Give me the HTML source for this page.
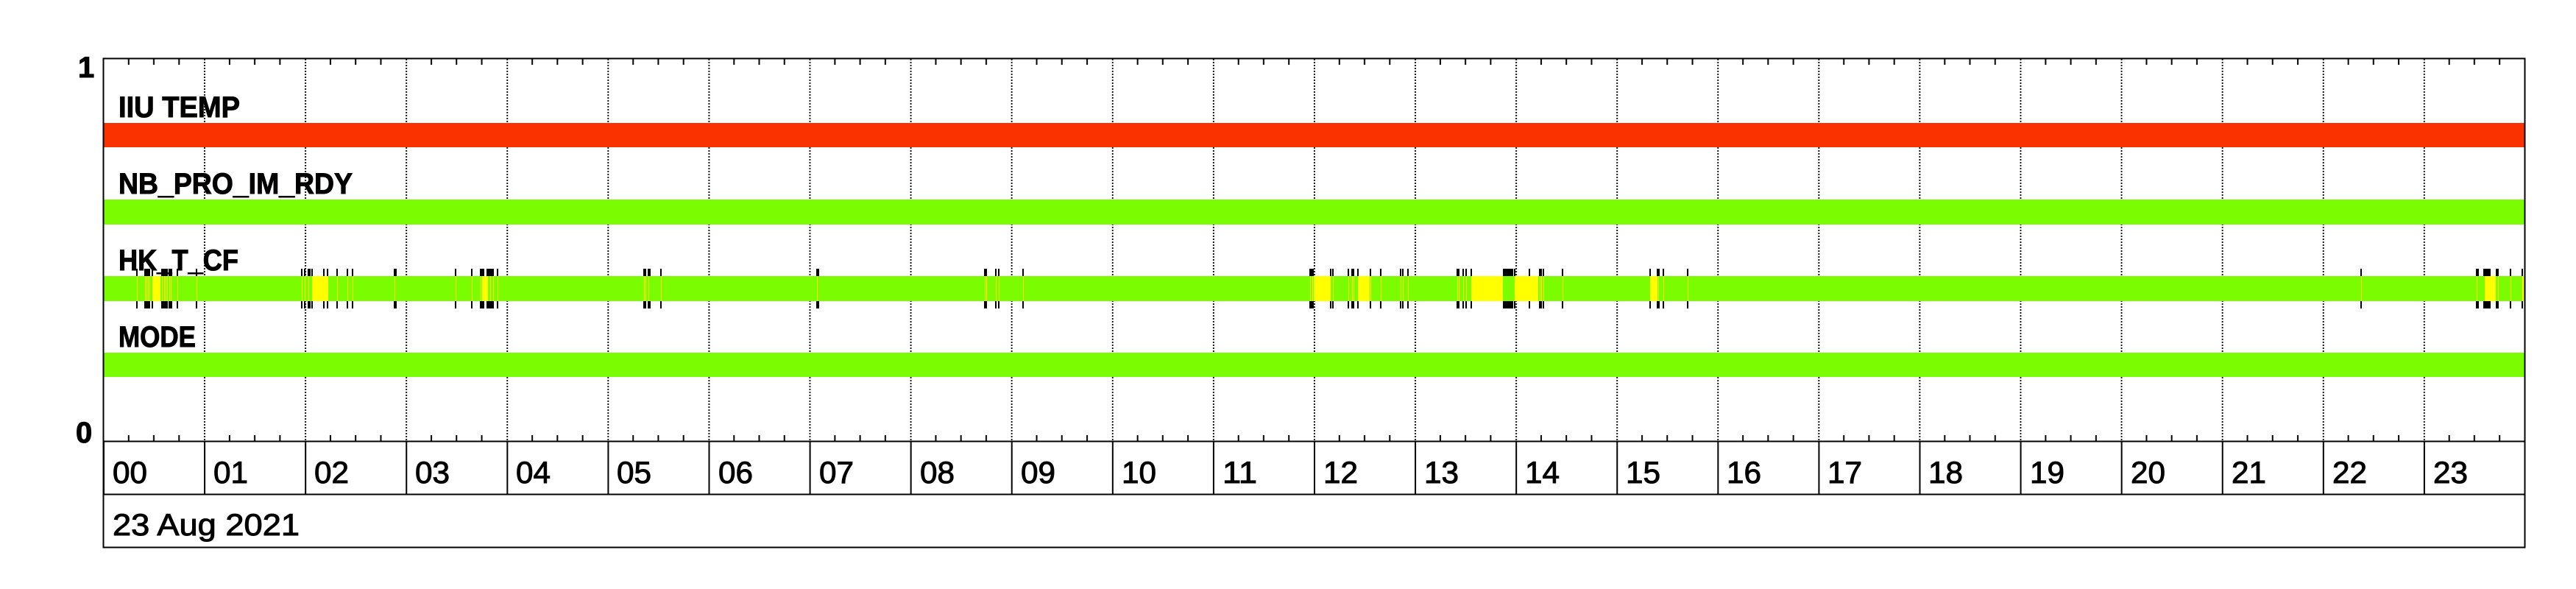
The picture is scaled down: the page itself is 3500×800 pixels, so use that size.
<!DOCTYPE html>
<html><head><meta charset="utf-8"><style>
html,body{margin:0;padding:0;background:#fff;}
svg{display:block;}
text{font-family:"Liberation Sans",sans-serif;fill:#000;stroke:#000;stroke-width:1;}
</style></head><body>
<svg width="3500" height="800" viewBox="0 0 3500 800" xmlns="http://www.w3.org/2000/svg">
<defs>
<pattern id="grid" patternUnits="userSpaceOnUse" x="140" y="0" width="137.083" height="4">
<rect x="0" y="0" width="1.8" height="2" fill="#000"/>
</pattern>
<pattern id="tickT" patternUnits="userSpaceOnUse" x="140" y="79" width="137.083" height="9">
<rect x="33.8" y="0" width="2" height="9" fill="#000"/>
<rect x="68" y="0" width="2" height="9" fill="#000"/>
<rect x="102.3" y="0" width="2" height="9" fill="#000"/>
</pattern>
<pattern id="tickB" patternUnits="userSpaceOnUse" x="140" y="591" width="137.083" height="9">
<rect x="33.8" y="0" width="2" height="9" fill="#000"/>
<rect x="68" y="0" width="2" height="9" fill="#000"/>
<rect x="102.3" y="0" width="2" height="9" fill="#000"/>
</pattern>
<pattern id="sep" patternUnits="userSpaceOnUse" x="140" y="0" width="137.083" height="10">
<rect x="0" y="0" width="2" height="10" fill="#000"/>
</pattern>
</defs>
<rect x="0" y="0" width="3500" height="800" fill="#fff"/>
<rect x="142" y="80" width="3287" height="519" fill="url(#grid)"/>
<rect x="141" y="79" width="3288" height="9" fill="url(#tickT)"/>
<rect x="141" y="591" width="3288" height="9" fill="url(#tickB)"/>
<rect x="140" y="167" width="3291" height="33" fill="#fa3200"/>
<rect x="140" y="271" width="3291" height="34" fill="#7cfc00"/>
<rect x="140" y="375" width="3291" height="34" fill="#7cfc00"/>
<rect x="140" y="479" width="3291" height="33" fill="#7cfc00"/>
<g fill="#ffff00">
<rect x="207" y="375" width="11" height="34"/>
<rect x="424" y="375" width="22" height="34"/>
<rect x="655" y="375" width="8" height="34"/>
<rect x="1785" y="375" width="23" height="34"/>
<rect x="1845" y="375" width="16" height="34"/>
<rect x="1999" y="375" width="43" height="34"/>
<rect x="2058" y="375" width="32" height="34"/>
<rect x="2242" y="375" width="10" height="34"/>
<rect x="3376" y="375" width="15" height="34"/>
<rect x="3427" y="375" width="3" height="34"/>
</g>
<path stroke="#ffff00" stroke-width="1" fill="none" d="M186.5 375v34M197.5 375v34M199.5 375v34M201.5 375v34M203.5 375v34M220.5 375v34M223.5 375v34M225.5 375v34M227.5 375v34M230.5 375v34M232.5 375v34M241.5 375v34M267.5 375v34M410.5 375v34M414.5 375v34M419.5 375v34M458.5 375v34M472.5 375v34M479.5 375v34M536.5 375v34M619.5 375v34M641.5 375v34M653.5 375v34M666.5 375v34M670.5 375v34M676.5 375v34M875.5 375v34M877.5 375v34M881.5 375v34M898.5 375v34M1110.5 375v34M1338.5 375v34M1340.5 375v34M1353.5 375v34M1357.5 375v34M1390.5 375v34M1780.5 375v34M1783.5 375v34M1811.5 375v34M1832.5 375v34M1837.5 375v34M1839.5 375v34M1862.5 375v34M1876.5 375v34M1903.5 375v34M1906.5 375v34M1913.5 375v34M1980.5 375v34M1982.5 375v34M1988.5 375v34M1992.5 375v34M2078.5 375v34M2092.5 375v34M2094.5 375v34M2097.5 375v34M2123.5 375v34M2253.5 375v34M2260.5 375v34M2293.5 375v34M3208.5 375v34M3365.5 375v34M3394.5 375v34M3411.5 375v34"/>
<path stroke="#000" stroke-width="2" fill="none" d="M186 365v10M186 409v10M197 365v10M197 409v10M199 365v10M199 409v10M201 365v10M201 409v10M203 365v10M203 409v10M207 365v10M207 409v10M220 365v10M220 409v10M221 365v10M221 409v10M223 365v10M223 409v10M225 365v10M225 409v10M227 365v10M227 409v10M230 365v10M230 409v10M232 365v10M232 409v10M233 365v10M233 409v10M241 365v10M241 409v10M267 365v10M267 409v10M410 365v10M410 409v10M414 365v10M414 409v10M419 365v10M419 409v10M421 365v10M421 409v10M424 365v10M424 409v10M440 365v10M440 409v10M445 365v10M445 409v10M458 365v10M458 409v10M472 365v10M472 409v10M479 365v10M479 409v10M536 365v10M536 409v10M538 365v10M538 409v10M619 365v10M619 409v10M641 365v10M641 409v10M653 365v10M653 409v10M655 365v10M655 409v10M657 365v10M657 409v10M662 365v10M662 409v10M664 365v10M664 409v10M666 365v10M666 409v10M668 365v10M668 409v10M670 365v10M670 409v10M676 365v10M676 409v10M875 365v10M875 409v10M877 365v10M877 409v10M881 365v10M881 409v10M883 365v10M883 409v10M898 365v10M898 409v10M1110 365v10M1110 409v10M1112 365v10M1112 409v10M1338 365v10M1338 409v10M1340 365v10M1340 409v10M1353 365v10M1353 409v10M1357 365v10M1357 409v10M1390 365v10M1390 409v10M1780 365v10M1780 409v10M1782 365v10M1782 409v10M1784 365v10M1784 409v10M1808 365v10M1808 409v10M1811 365v10M1811 409v10M1832 365v10M1832 409v10M1837 365v10M1837 409v10M1839 365v10M1839 409v10M1845 365v10M1845 409v10M1862 365v10M1862 409v10M1876 365v10M1876 409v10M1903 365v10M1903 409v10M1906 365v10M1906 409v10M1913 365v10M1913 409v10M1980 365v10M1980 409v10M1982 365v10M1982 409v10M1988 365v10M1988 409v10M1992 365v10M1992 409v10M1999 365v10M1999 409v10M2043 365v10M2043 409v10M2045 365v10M2045 409v10M2047 365v10M2047 409v10M2049 365v10M2049 409v10M2051 365v10M2051 409v10M2053 365v10M2053 409v10M2055 365v10M2055 409v10M2058 365v10M2058 409v10M2078 365v10M2078 409v10M2092 365v10M2092 409v10M2094 365v10M2094 409v10M2097 365v10M2097 409v10M2123 365v10M2123 409v10M2242 365v10M2242 409v10M2252 365v10M2252 409v10M2254 365v10M2254 409v10M2260 365v10M2260 409v10M2293 365v10M2293 409v10M3208 365v10M3208 409v10M3365 365v10M3365 409v10M3367 365v10M3367 409v10M3375 365v10M3375 409v10M3377 365v10M3377 409v10M3379 365v10M3379 409v10M3381 365v10M3381 409v10M3383 365v10M3383 409v10M3392 365v10M3392 409v10M3394 365v10M3394 409v10M3411 365v10M3411 409v10M3427 365v10M3427 409v10"/>
<rect x="140.5" y="79.5" width="3290" height="520" fill="none" stroke="#000" stroke-width="2"/>
<rect x="140.5" y="599.5" width="3290" height="72" fill="none" stroke="#000" stroke-width="2"/>
<rect x="140.5" y="671.5" width="3290" height="72" fill="none" stroke="#000" stroke-width="2"/>
<rect x="140" y="600" width="3291" height="71" fill="url(#sep)"/>
<g font-weight="bold">
<text x="161" y="159" font-size="40" textLength="165" lengthAdjust="spacingAndGlyphs">IIU TEMP</text>
<text x="161" y="263" font-size="40" textLength="318" lengthAdjust="spacingAndGlyphs">NB_PRO_IM_RDY</text>
<text x="161" y="367" font-size="40" textLength="163" lengthAdjust="spacingAndGlyphs">HK_T_CF</text>
<text x="161" y="471" font-size="40" textLength="105" lengthAdjust="spacingAndGlyphs">MODE</text>
<text x="106" y="105" font-size="40">1</text>
<text x="103" y="601" font-size="40">0</text>
</g>
<g font-size="42">
<text x="153" y="656" textLength="47" lengthAdjust="spacingAndGlyphs">00</text>
<text x="290" y="656" textLength="47" lengthAdjust="spacingAndGlyphs">01</text>
<text x="427" y="656" textLength="47" lengthAdjust="spacingAndGlyphs">02</text>
<text x="564" y="656" textLength="47" lengthAdjust="spacingAndGlyphs">03</text>
<text x="701" y="656" textLength="47" lengthAdjust="spacingAndGlyphs">04</text>
<text x="838" y="656" textLength="47" lengthAdjust="spacingAndGlyphs">05</text>
<text x="976" y="656" textLength="47" lengthAdjust="spacingAndGlyphs">06</text>
<text x="1113" y="656" textLength="47" lengthAdjust="spacingAndGlyphs">07</text>
<text x="1250" y="656" textLength="47" lengthAdjust="spacingAndGlyphs">08</text>
<text x="1387" y="656" textLength="47" lengthAdjust="spacingAndGlyphs">09</text>
<text x="1524" y="656" textLength="47" lengthAdjust="spacingAndGlyphs">10</text>
<text x="1661" y="656" textLength="47" lengthAdjust="spacingAndGlyphs">11</text>
<text x="1798" y="656" textLength="47" lengthAdjust="spacingAndGlyphs">12</text>
<text x="1935" y="656" textLength="47" lengthAdjust="spacingAndGlyphs">13</text>
<text x="2072" y="656" textLength="47" lengthAdjust="spacingAndGlyphs">14</text>
<text x="2209" y="656" textLength="47" lengthAdjust="spacingAndGlyphs">15</text>
<text x="2346" y="656" textLength="47" lengthAdjust="spacingAndGlyphs">16</text>
<text x="2483" y="656" textLength="47" lengthAdjust="spacingAndGlyphs">17</text>
<text x="2620" y="656" textLength="47" lengthAdjust="spacingAndGlyphs">18</text>
<text x="2758" y="656" textLength="47" lengthAdjust="spacingAndGlyphs">19</text>
<text x="2895" y="656" textLength="47" lengthAdjust="spacingAndGlyphs">20</text>
<text x="3032" y="656" textLength="47" lengthAdjust="spacingAndGlyphs">21</text>
<text x="3169" y="656" textLength="47" lengthAdjust="spacingAndGlyphs">22</text>
<text x="3306" y="656" textLength="47" lengthAdjust="spacingAndGlyphs">23</text>
</g>
<text x="153" y="727" font-size="42" textLength="254" lengthAdjust="spacingAndGlyphs">23 Aug 2021</text>
</svg>
</body></html>
